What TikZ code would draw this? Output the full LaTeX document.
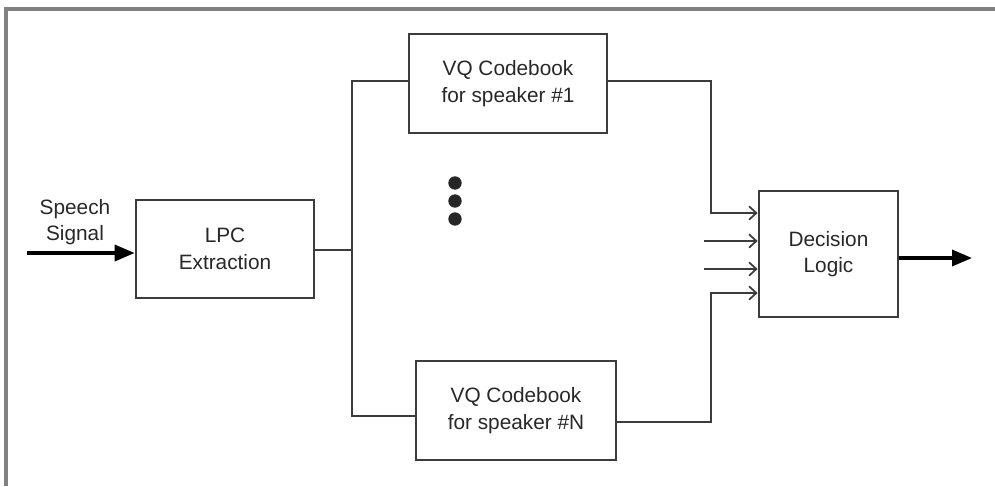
\documentclass[tikz,border=0pt]{standalone}
\usepackage{fontspec}
\setmainfont{Liberation Sans}
\usetikzlibrary{arrows.meta}
\definecolor{framegray}{RGB}{128,128,128}
\definecolor{boxline}{RGB}{60,60,60}
\definecolor{txt}{RGB}{40,40,40}
\tikzset{
  blk/.style={draw=boxline, line width=2pt, fill=white, inner sep=0pt,
    align=center, font=\fontsize{15.6}{20}\selectfont, text=txt},
  conn/.style={draw=boxline, line width=1.4pt},
  inarrow/.style={conn, -{Straight Barb[length=5.5pt,width=10pt,line width=1.3pt]}},
  bigarrow/.style={draw=black, line width=2.6pt, -{Triangle[length=15pt,width=12pt]}},
  lbl/.style={align=center, font=\fontsize{15.6}{20}\selectfont, text=txt, inner sep=0pt},
  dot/.style={circle, fill=black!85, minimum size=10pt, inner sep=0pt}
}
\begin{document}
\begin{tikzpicture}[x=0.75pt,y=-0.75pt]
\useasboundingbox (0,0) rectangle (995,486);
\fill[white] (0,0) rectangle (995,486);
\draw[framegray, line width=2.8pt] (6,486) -- (6,9) -- (995,9);

\node[blk, minimum width=178*0.75pt, minimum height=98*0.75pt] (lpc) at (225,249) {LPC\\Extraction};
\node[blk, minimum width=198*0.75pt, minimum height=99*0.75pt] (vq1) at (508,83.5) {VQ Codebook\\for speaker \#1};
\node[blk, minimum width=200*0.75pt, minimum height=99*0.75pt] (vqn) at (516,410.5) {VQ Codebook\\for speaker \#N};
\node[blk, minimum width=139*0.75pt, minimum height=126*0.75pt] (dec) at (828.5,254) {Decision\\Logic};

\node[lbl] (speech) at (75,222) {Speech\\Signal};
\coordinate (sin) at (27,253);
\coordinate (sout) at (972,258);

\draw[bigarrow] (sin) -- (sin -| lpc.west);
\draw[bigarrow] (dec.east |- sout) -- (sout);

\coordinate (bus) at (352,250);
\draw[conn] (lpc.east |- bus) -- (bus);
\draw[conn] (vq1.west |- 0,81) -| (352,416) -- (vqn.west |- 0,416);

\draw[inarrow] (vq1.east |- 0,81) -| (711,213) -- (dec.west |- 0,213);
\coordinate (a2) at (704,241);
\coordinate (a3) at (704,269);
\draw[inarrow] (a2) -- (dec.west |- a2);
\draw[inarrow] (a3) -- (dec.west |- a3);
\draw[inarrow] (vqn.east |- 0,422) -| (711,293) -- (dec.west |- 0,293);

\node[dot] (d1) at (455,183) {};
\node[dot] (d2) at (455,201) {};
\node[dot] (d3) at (455,219) {};
\end{tikzpicture}
\end{document}
